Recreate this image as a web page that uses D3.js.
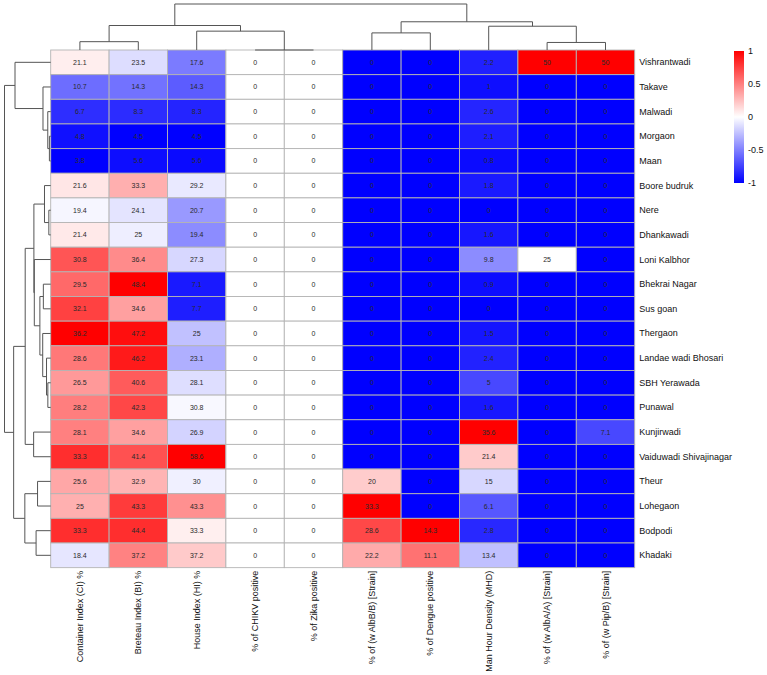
<!DOCTYPE html>
<html>
<head>
<meta charset="utf-8">
<script src="https://cdn.jsdelivr.net/npm/d3@7"></script>
<style>
    body { margin: 0; background: #fff; }
    svg { font-family: "Liberation Sans", Arial, sans-serif; display: block; }
</style>
</head>
<body>
<svg width="767" height="675"></svg>
<script>
    // linhas (ordem do dendrograma)
    var sites = ["Vishrantwadi", "Takave", "Malwadi", "Morgaon", "Maan", "Boore budruk", "Nere",
        "Dhankawadi", "Loni Kalbhor", "Bhekrai Nagar", "Sus goan", "Thergaon", "Landae wadi Bhosari",
        "SBH Yerawada", "Punawal", "Kunjirwadi", "Vaiduwadi Shivajinagar", "Theur", "Lohegaon",
        "Bodpodi", "Khadaki"];

    var indices = ["Container Index (CI) %", "Breteau Index (BI) %", "House Index (HI) %",
        "% of CHIKV positive", "% of Zika positive", "% of (w AlbB/B) [Strain]", "% of Dengue positive",
        "Man Hour Density (MHD)", "% of (w AlbA/A) [Strain]", "% of (w Pip/B) [Strain]"];

    var ci = [21.1, 10.7, 6.7, 4.8, 3.8, 21.6, 19.4, 21.4, 30.8, 29.5, 32.1, 36.2, 28.6, 26.5, 28.2, 28.1, 33.3, 25.6, 25, 33.3, 18.4];
    var bi = [23.5, 14.3, 8.3, 4.5, 5.6, 33.3, 24.1, 25, 36.4, 48.4, 34.6, 47.2, 46.2, 40.6, 42.3, 34.6, 41.4, 32.9, 43.3, 44.4, 37.2];
    var hi = [17.6, 14.3, 8.3, 4.5, 5.6, 29.2, 20.7, 19.4, 27.3, 7.1, 7.7, 25, 23.1, 28.1, 30.8, 26.9, 58.6, 30, 43.3, 33.3, 37.2];
    var chikv = [0, 0, 0, 0, 0, 0, 0, 0, 0, 0, 0, 0, 0, 0, 0, 0, 0, 0, 0, 0, 0];
    var zika = [0, 0, 0, 0, 0, 0, 0, 0, 0, 0, 0, 0, 0, 0, 0, 0, 0, 0, 0, 0, 0];
    var albB = [0, 0, 0, 0, 0, 0, 0, 0, 0, 0, 0, 0, 0, 0, 0, 0, 0, 20, 33.3, 28.6, 22.2];
    var dengue = [0, 0, 0, 0, 0, 0, 0, 0, 0, 0, 0, 0, 0, 0, 0, 0, 0, 0, 0, 14.3, 11.1];
    var mhd = [2.2, 1, 2.6, 2.1, 0.8, 1.8, 0, 1.6, 9.8, 0.9, 0, 1.5, 2.4, 5, 1.6, 35.6, 21.4, 15, 6.1, 2.8, 13.4];
    var albA = [50, 0, 0, 0, 0, 0, 0, 0, 25, 0, 0, 0, 0, 0, 0, 0, 0, 0, 0, 0, 0];
    var pip = [50, 0, 0, 0, 0, 0, 0, 0, 0, 0, 0, 0, 0, 0, 0, 7.1, 0, 0, 0, 0, 0];

    var colunas = [ci, bi, hi, chikv, zika, albB, dengue, mhd, albA, pip];

    var legendaTicks = [-1, -0.5, 0, 0.5, 1];

    var svg = d3.select("svg");

    var esq = 50.7, topo = 50, cw = 58.4, rh = 24.65;

    var x = d3.scaleBand().domain(d3.range(indices.length)).range([esq, esq + cw * indices.length]);
    var y = d3.scaleBand().domain(d3.range(sites.length)).range([topo, topo + rh * sites.length]);

    var color = d3.scaleLinear().domain([-1, 0, 1]).range(["#0000ff", "#ffffff", "#ff0000"]).clamp(true);

    // escala cada coluna para [-1, 1]
    function escala(col) {
        var ext = d3.extent(col);
        if (ext[1] === ext[0]) return col.map(function () { return 0; });
        return col.map(function (v) { return 2 * (v - ext[0]) / (ext[1] - ext[0]) - 1; });
    }
    var escaladas = colunas.map(escala);

    // agrupamento hierarquico (euclidiano, ligacao completa)
    function hclust(vetores) {
        var n = vetores.length;
        var dist = vetores.map(function (a) {
            return vetores.map(function (b) {
                return Math.sqrt(d3.sum(a, function (v, k) { return (v - b[k]) * (v - b[k]); }));
            });
        });
        var grupos = d3.range(n).map(function (i) { return {no: i, membros: [i]}; });
        while (grupos.length > 1) {
            var melhor = null;
            for (var a = 0; a < grupos.length; a++) {
                for (var b = a + 1; b < grupos.length; b++) {
                    var d = d3.max(grupos[a].membros, function (m) {
                        return d3.max(grupos[b].membros, function (k) { return dist[m][k]; });
                    });
                    if (!melhor || d < melhor.d - 1e-12) melhor = {a: a, b: b, d: d};
                }
            }
            var ga = grupos[melhor.a], gb = grupos[melhor.b];
            var filhos = d3.min(ga.membros) < d3.min(gb.membros) ? [ga.no, gb.no] : [gb.no, ga.no];
            var novo = {no: {h: melhor.d, c: filhos}, membros: ga.membros.concat(gb.membros)};
            grupos = grupos.filter(function (g, i) { return i !== melhor.a && i !== melhor.b; });
            grupos.push(novo);
        }
        return grupos[0].no;
    }

    var linhasVet = sites.map(function (s, i) { return escaladas.map(function (c) { return c[i]; }); });
    var rowTree = hclust(linhasVet);
    var colTree = hclust(escaladas);

    var cells = [];
    colunas.forEach(function (col, j) {
        col.forEach(function (v, i) {
            cells.push({i: i, j: j, v: v, s: escaladas[j][i]});
        });
    });

    var cell = svg.append("g").selectAll("g")
        .data(cells)
        .enter().append("g");

    cell.append("rect")
        .attr("x", function (d) { return x(d.j); })
        .attr("y", function (d) { return y(d.i); })
        .attr("width", x.bandwidth())
        .attr("height", y.bandwidth())
        .attr("fill", function (d) { return color(d.s); })
        .attr("stroke", "#b4b4b4")
        .attr("stroke-width", 0.9);

    cell.append("text")
        .attr("x", function (d) { return x(d.j) + x.bandwidth() / 2; })
        .attr("y", function (d) { return y(d.i) + y.bandwidth() / 2; })
        .attr("text-anchor", "middle")
        .attr("dominant-baseline", "central")
        .attr("font-size", 7)
        .attr("fill", "#2a2a2a")
        .text(function (d) { return d.v; });

    // rotulos das linhas
    svg.append("g").selectAll("text")
        .data(sites)
        .enter().append("text")
        .attr("x", esq + cw * indices.length + 4.5)
        .attr("y", function (d, i) { return y(i) + y.bandwidth() / 2; })
        .attr("dominant-baseline", "central")
        .attr("font-size", 9)
        .attr("fill", "#111")
        .text(function (d) { return d; });

    // rotulos das colunas
    var yb = topo + rh * sites.length + 3;
    svg.append("g").selectAll("text")
        .data(indices)
        .enter().append("text")
        .attr("transform", function (d, j) { return "translate(" + (x(j) + x.bandwidth() / 2) + "," + yb + ") rotate(-90)"; })
        .attr("text-anchor", "end")
        .attr("dominant-baseline", "central")
        .attr("font-size", 9)
        .attr("fill", "#111")
        .text(function (d) { return d; });

    // dendrogramas
    function desenha(g, node, pos, alt, vertical) {
        // devolve [posicao, altura]
        if (typeof node === "number") return [pos(node), alt(0)];
        var filhos = node.c.map(function (c) { return desenha(g, c, pos, alt, vertical); });
        var h = alt(node.h);
        var p = (filhos[0][0] + filhos[1][0]) / 2;
        var path = d3.path();
        filhos.forEach(function (f) {
            if (vertical) { path.moveTo(f[0], f[1]); path.lineTo(f[0], h); }
            else { path.moveTo(f[1], f[0]); path.lineTo(h, f[0]); }
        });
        if (vertical) { path.moveTo(filhos[0][0], h); path.lineTo(filhos[1][0], h); }
        else { path.moveTo(h, filhos[0][0]); path.lineTo(h, filhos[1][0]); }
        g.append("path").attr("d", path.toString());
        return [p, h];
    }

    var gCol = svg.append("g").attr("fill", "none").attr("stroke", "#555").attr("stroke-width", 1);
    desenha(gCol, colTree,
        function (j) { return x(j) + x.bandwidth() / 2; },
        d3.scaleLinear().domain([0, colTree.h]).range([topo, 4]),
        true);

    var gRow = svg.append("g").attr("fill", "none").attr("stroke", "#555").attr("stroke-width", 1);
    desenha(gRow, rowTree,
        function (i) { return y(i) + y.bandwidth() / 2; },
        d3.scaleLinear().domain([0, rowTree.h]).range([esq, 4.5]),
        false);

    // legenda
    var ly = d3.scaleLinear().domain([-1, 1]).range([183, 51]);
    var grad = svg.append("defs").append("linearGradient")
        .attr("id", "grad").attr("x1", 0).attr("y1", 1).attr("x2", 0).attr("y2", 0);
    grad.selectAll("stop")
        .data([-1, 0, 1])
        .enter().append("stop")
        .attr("offset", function (d) { return (d + 1) / 2; })
        .attr("stop-color", function (d) { return color(d); });

    svg.append("rect")
        .attr("x", 734).attr("y", ly(1))
        .attr("width", 10).attr("height", ly(-1) - ly(1))
        .attr("fill", "url(#grad)");

    svg.append("g")
        .attr("transform", "translate(744,0)")
        .call(d3.axisRight(ly).tickValues(legendaTicks).tickSize(0).tickPadding(4)
            .tickFormat(function (d) { return String(d); }))
        .call(function (g) { g.select(".domain").remove(); })
        .selectAll("text")
        .attr("font-size", 9)
        .attr("font-family", "Liberation Sans, Arial, sans-serif")
        .attr("fill", "#111");
</script>
</body>
</html>
